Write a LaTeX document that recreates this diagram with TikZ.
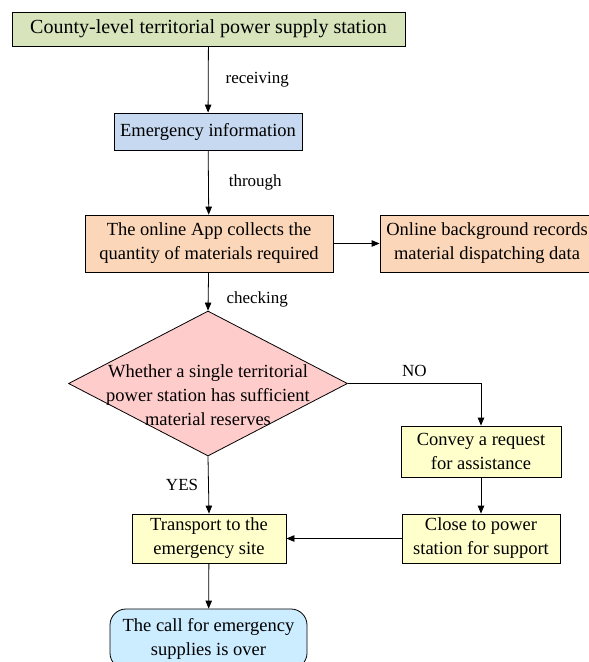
\documentclass[tikz,border=0pt]{standalone}
\usepackage{fontspec}
\setmainfont{Liberation Serif}
\usetikzlibrary{arrows.meta,shapes.geometric}

\definecolor{stationgreen}{RGB}{215,228,188}
\definecolor{infoblue}{RGB}{198,217,240}
\definecolor{apppeach}{RGB}{251,214,184}
\definecolor{checkpink}{RGB}{255,204,204}
\definecolor{stepyellow}{RGB}{255,255,204}
\definecolor{endblue}{RGB}{204,236,255}

\begin{document}
\begin{tikzpicture}[x=1pt,y=-1pt,line width=0.8pt,
  every node/.style={font=\fontsize{18.5}{24}\selectfont},
  box/.style={draw,align=center,inner sep=0pt},
  decision/.style={draw,diamond,fill=checkpink,inner sep=0pt,
    minimum width=279pt,minimum height=145pt},
  flowlabel/.style={font=\fontsize{17}{20}\selectfont,inner sep=0pt},
  flow/.style={-{Triangle[length=8pt,width=6.5pt]}}]
\clip (0,0) rectangle (589,662);

\node[box,fill=stationgreen,minimum width=393pt,minimum height=34pt,
  font=\fontsize{20}{24}\selectfont] (station) at (208.5,29)
  {County-level territorial power supply station};
\node[box,fill=infoblue,minimum width=188pt,minimum height=37pt] (info) at (208,131.5)
  {Emergency information};
\node[box,fill=apppeach,minimum width=248pt,minimum height=57pt] (app) at (209,243.5)
  {The online App collects the\\quantity of materials required};
\node[box,fill=apppeach,minimum width=214pt,minimum height=57pt] (records) at (487,243.5)
  {Online background records\\material dispatching data};
\node[decision,label={[font=\fontsize{18.5}{24}\selectfont,align=center,yshift=-12pt]center:{Whether a single territorial\\power station has sufficient\\material reserves}}] (check) at (208,383.5) {};
\node[box,fill=stepyellow,minimum width=160pt,minimum height=51pt] (convey) at (481,451.5)
  {Convey a request\\for assistance};
\node[box,fill=stepyellow,minimum width=158pt,minimum height=49pt] (close) at (481,538.5)
  {Close to power\\station for support};
\node[box,fill=stepyellow,minimum width=154pt,minimum height=49pt] (transport) at (209,538.5)
  {Transport to the\\emergency site};
\node[box,fill=endblue,rounded corners=16pt,minimum width=197pt,minimum height=60pt] (over) at (208.5,639)
  {The call for emergency\\supplies is over};

% connectors
\draw[flow] (station) -- (info)
  node[flowlabel,midway,right=17pt] (recv) {receiving};
\draw[flow] (info) -- (app)
  node[flowlabel,midway,right=20pt] (thru) {through};
\draw[flow] (app) -- (records);
\draw[flow] (app) -- (check.north)
  node[flowlabel,pos=0.7,right=18pt] (chk) {checking};
\draw[flow] (check.east) -| (convey.north)
  node[flowlabel,pos=0.25,above=6pt] (no) {NO};
\draw[flow] (convey) -- (close);
\draw[flow] (close) -- (transport);
\draw[flow] (check.south) -- (transport.north)
  node[flowlabel,midway,left=10pt] (yes) {YES};
\draw[flow] (transport) -- (over);
\end{tikzpicture}
\end{document}
